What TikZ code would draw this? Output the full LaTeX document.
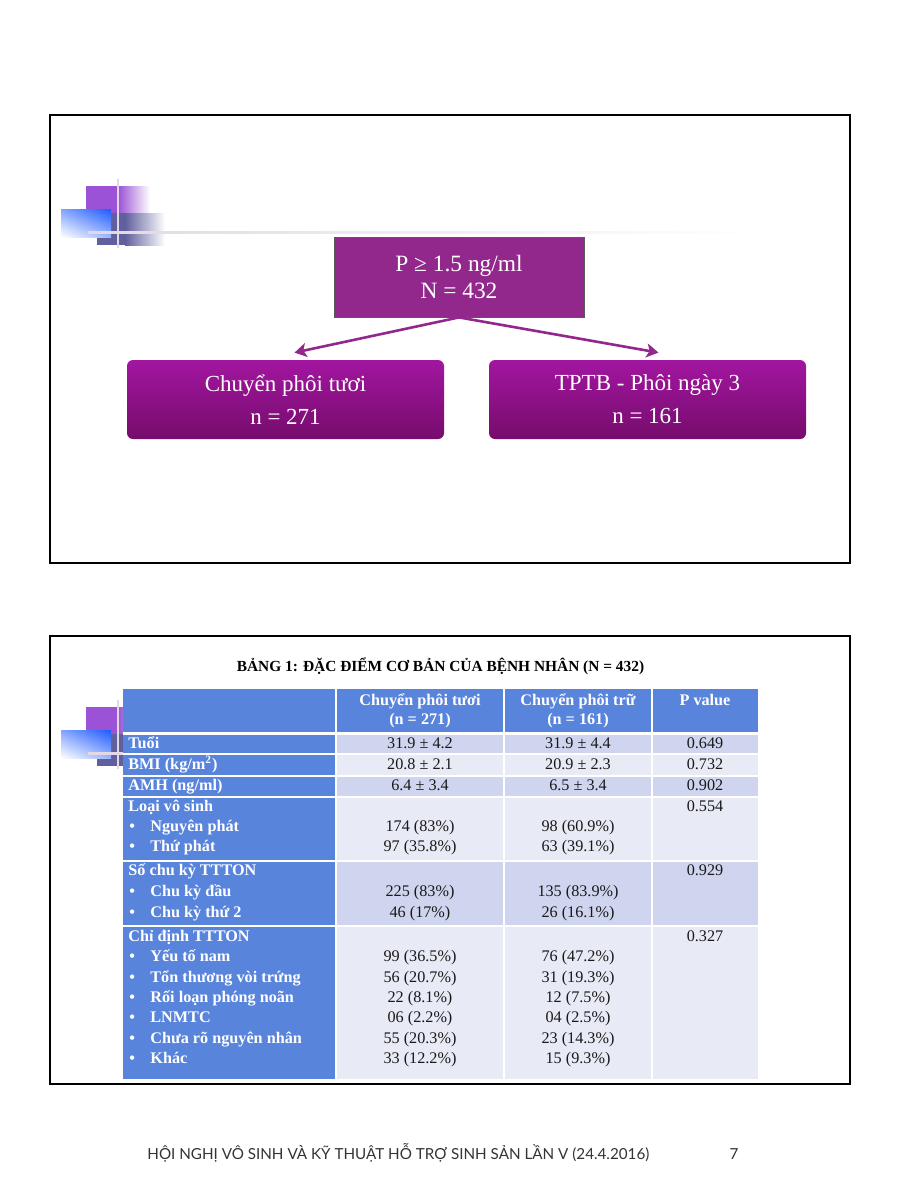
\documentclass[tikz,border=0pt]{standalone}
\usepackage{fontspec}
\setmainfont{Liberation Serif}
\newfontfamily\footerfont{Lato}
\usepackage{tikz}
\usetikzlibrary{positioning, arrows.meta, shadings}
\definecolor{boxpurple}{RGB}{146, 40, 140}
\definecolor{boxtop}{RGB}{162, 22, 160}
\definecolor{boxbottom}{RGB}{118, 12, 108}
\definecolor{tblblue}{RGB}{88, 132, 220}
\definecolor{tbldark}{RGB}{207, 213, 238}
\definecolor{tbllight}{RGB}{232, 234, 245}
\definecolor{decpurple}{RGB}{155, 82, 214}
\definecolor{decblue}{RGB}{30, 90, 255}
\definecolor{decslate}{RGB}{96, 96, 158}
\definecolor{decline}{RGB}{226, 216, 228}
\tikzset{
    slide/.style={draw=black, line width=1pt},
    rootbox/.style={rectangle, draw=black!65, fill=boxpurple, text=white, minimum width=125pt, minimum height=40pt, align=center, font=\fontsize{11.7}{13.5}\selectfont},
    groupbox/.style={rectangle, rounded corners=3pt, top color=boxtop, bottom color=boxbottom, text=white, minimum width=158.5pt, minimum height=39.5pt, align=center, font=\fontsize{11.5}{16.5}\selectfont},
    flowarrow/.style={draw=boxpurple, line width=1.3pt, -{Stealth[length=6pt, width=7pt, inset=1.5pt]}},
    headcell/.style={text=white, align=center, inner sep=0pt, font=\fontsize{8.1}{9.4}\selectfont\bfseries},
    rowlabel/.style={anchor=mid west, text=white, inner sep=0pt, font=\fontsize{8.1}{10}\selectfont\bfseries},
    rowvalue/.style={anchor=mid, text=black!90, inner sep=0pt, font=\fontsize{8.1}{10}\selectfont},
    gridline/.style={draw=white, line width=0.8pt},
    corner/.pic={
        % purple square with fading tail
        \fill[decpurple] (86,186) rectangle (118,213);
        \shade[left color=decpurple, right color=white] (118,186) rectangle (150,213);
        % slate square
        \fill[decslate] (97,213) rectangle (125,245);
        \shade[left color=decslate, right color=white] (125,213) rectangle (165,245);
        % blue square
        \shade[upper left=decblue!55, upper right=decblue, lower left=white, lower right=decblue!45] (61,209) rectangle (111,237);
        % thin lines
        \draw[decline, line width=1pt] (118,179) -- (118,248);
        \shade[left color=decline, right color=white] (88,231) rectangle (760,233);
    }
}

\begin{document}
\begin{tikzpicture}[x=0.5pt, y=-0.5pt]
    \useasboundingbox (0,0) rectangle (900,1200);
    \fill[white] (0,0) rectangle (900,1200);

    % slide 1: flow chart
    \pic {corner};
    \draw[slide] (50,115) rectangle (850,563);
    \node[rootbox] (root) at (459,277) {P ≥ 1.5 ng/ml\\N = 432};
    \node[groupbox] (fresh) at (285.5,399.5) {Chuyển phôi tươi\\n = 271};
    \node[groupbox] (frozen) at (647.5,399.5) {TPTB - Phôi ngày 3\\n = 161};
    \coordinate (freshtip) at ([xshift=4.5pt, yshift=3.5pt]fresh.north);
    \coordinate (frozentip) at ([xshift=5.5pt, yshift=3.5pt]frozen.north);
    \draw[flowarrow] (root.south) -- (freshtip);
    \draw[flowarrow] (root.south) -- (frozentip);

    % slide 2: table
    \begin{scope}[yshift=-260.5pt]
        \pic {corner};
    \end{scope}
    \draw[slide] (50,636) rectangle (850,1084);
    \node[anchor=mid, inner sep=0pt, font=\fontsize{7.7}{9}\selectfont\bfseries] (title) at (440.5,667)
        {BẢNG 1: ĐẶC ĐIỂM CƠ BẢN CỦA BỆNH NHÂN (N = 432)};

    \fill[tblblue] (123,689) rectangle (758,733);
    \fill[tblblue] (123,733) rectangle (336,1079);
    \foreach \top/\bot/\shadecol in {733/754/tbldark, 754/776/tbllight, 776/797/tbldark,
                                   797/861/tbllight, 861/926/tbldark, 926/1079/tbllight}
        \fill[\shadecol] (336,\top) rectangle (758,\bot);
    \foreach \colx in {336, 504, 652}
        \draw[gridline] (\colx,689) -- (\colx,1079);
    \draw[gridline, line width=1.5pt] (123,733) -- (758,733);
    \foreach \rowy in {754, 776, 797, 861, 926}
        \draw[gridline] (123,\rowy) -- (758,\rowy);

    % header
    \node[headcell] (hfresh) at (420,711) {Chuyển phôi tươi\\(n = 271)};
    \node[headcell] (hfrozen) at (578,711) {Chuyển phôi trữ\\(n = 161)};
    \node[headcell, anchor=mid] (hpval) at (705,701) {P value};

    % single-line rows
    \foreach \lbl/\vfresh/\vfrozen/\pval/\rowy [count=\i] in
        {Tuổi/31.9 ± 4.2/31.9 ± 4.4/0.649/744,
         {BMI (kg/m\textsuperscript{2})}/20.8 ± 2.1/20.9 ± 2.3/0.732/765,
         {AMH (ng/ml)}/6.4 ± 3.4/6.5 ± 3.4/0.902/786}{
        \node[rowlabel] (lbl\i) at (128,\rowy) {\lbl};
        \node[rowvalue] (fr\i) at (420,\rowy) {\vfresh};
        \node[rowvalue] (fz\i) at (578,\rowy) {\vfrozen};
        \node[rowvalue] (pv\i) at (705,\rowy) {\pval};
    }

    % grouped rows
    \node[rowlabel] (loai) at (128,807) {Loại vô sinh};
    \node[rowvalue] (pvloai) at (705,807) {0.554};
    \foreach \lbl/\vfresh/\vfrozen [count=\i] in
        {Nguyên phát/174 (83\%)/98 (60.9\%),
         Thứ phát/97 (35.8\%)/63 (39.1\%)}{
        \pgfmathsetmacro{\rowy}{807+20*\i}
        \node[rowlabel] (loaib\i) at (129,\rowy) {•};
        \node[rowlabel] (loail\i) at (150,\rowy) {\lbl};
        \node[rowvalue] (loaifr\i) at (420,\rowy) {\vfresh};
        \node[rowvalue] (loaifz\i) at (578,\rowy) {\vfrozen};
    }

    \node[rowlabel] (chuky) at (128,871) {Số chu kỳ TTTON};
    \node[rowvalue] (pvchuky) at (705,871) {0.929};
    \foreach \lbl/\vfresh/\vfrozen [count=\i] in
        {Chu kỳ đầu/225 (83\%)/135 (83.9\%),
         Chu kỳ thứ 2/46 (17\%)/26 (16.1\%)}{
        \pgfmathsetmacro{\rowy}{871+20.7*\i}
        \node[rowlabel] (chukyb\i) at (129,\rowy) {•};
        \node[rowlabel] (chukyl\i) at (150,\rowy) {\lbl};
        \node[rowvalue] (chukyfr\i) at (420,\rowy) {\vfresh};
        \node[rowvalue] (chukyfz\i) at (578,\rowy) {\vfrozen};
    }

    \node[rowlabel] (chidinh) at (128,937) {Chỉ định TTTON};
    \node[rowvalue] (pvchidinh) at (705,937) {0.327};
    \foreach \lbl/\vfresh/\vfrozen [count=\i] in
        {Yếu tố nam/99 (36.5\%)/76 (47.2\%),
         Tổn thương vòi trứng/56 (20.7\%)/31 (19.3\%),
         Rối loạn phóng noãn/22 (8.1\%)/12 (7.5\%),
         LNMTC/06 (2.2\%)/04 (2.5\%),
         Chưa rõ nguyên nhân/55 (20.3\%)/23 (14.3\%),
         Khác/33 (12.2\%)/15 (9.3\%)}{
        \pgfmathsetmacro{\rowy}{937+20.3*\i}
        \node[rowlabel] (chidinhb\i) at (129,\rowy) {•};
        \node[rowlabel] (chidinhl\i) at (150,\rowy) {\lbl};
        \node[rowvalue] (chidinhfr\i) at (420,\rowy) {\vfresh};
        \node[rowvalue] (chidinhfz\i) at (578,\rowy) {\vfrozen};
    }

    % footer
    \node[anchor=mid west, inner sep=0pt, text=black!80, font=\footerfont\fontsize{7.6}{9}\selectfont] (footer) at (147,1155)
        {HỘI NGHỊ VÔ SINH VÀ KỸ THUẬT HỖ TRỢ SINH SẢN LẦN V (24.4.2016)};
    \node[anchor=mid, inner sep=0pt, text=black!80, font=\footerfont\fontsize{7.6}{9}\selectfont] (pageno) at (734,1155) {7};
\end{tikzpicture}
\end{document}
